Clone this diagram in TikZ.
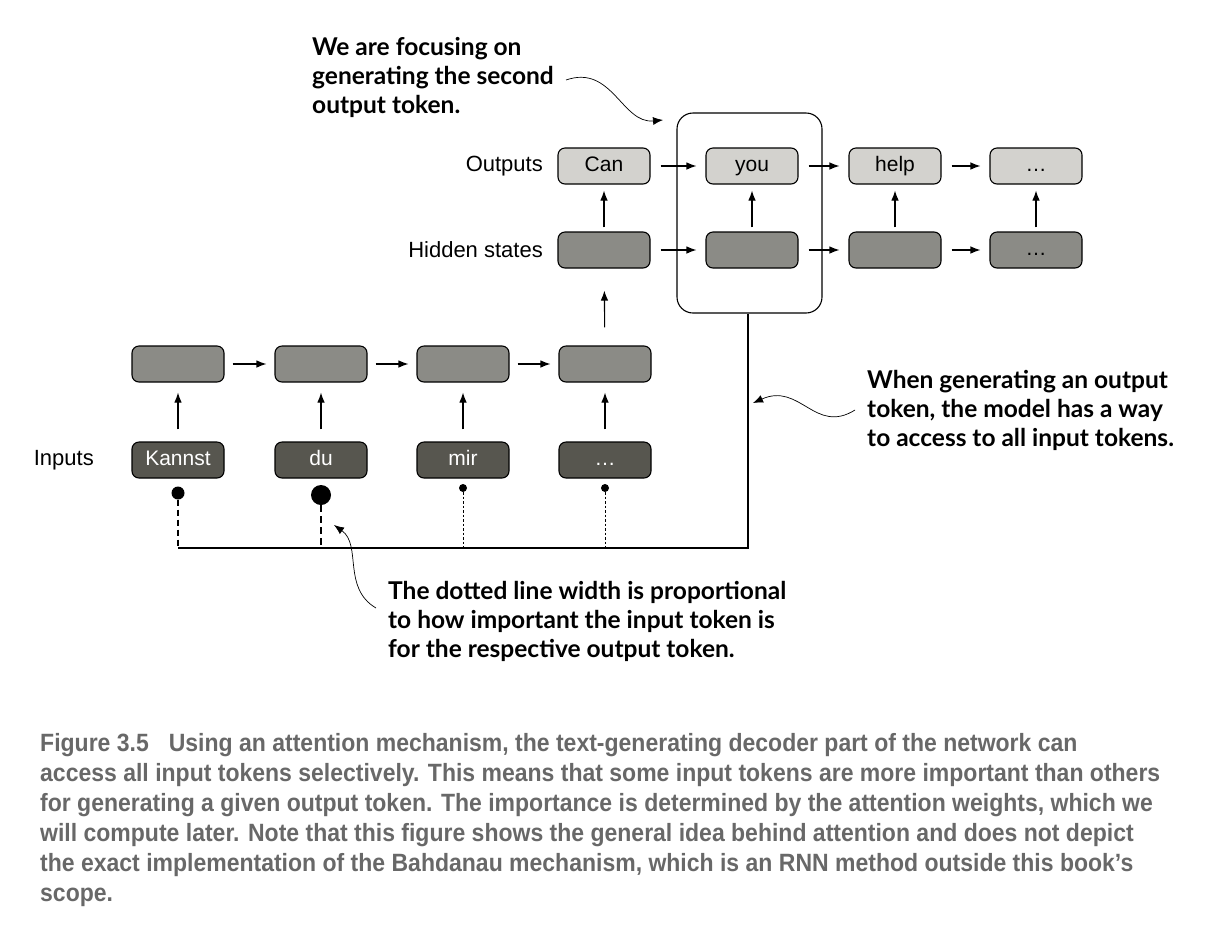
\documentclass[tikz,border=0pt]{standalone}
\usepackage{fontspec}
\setmainfont{Liberation Sans}
\newfontfamily\notefont{Lato}
\newfontfamily\capfont[FakeStretch=0.92]{Liberation Sans}
\usetikzlibrary{positioning,arrows.meta}
\definecolor{outfill}{HTML}{D3D2CE}
\definecolor{hidfill}{HTML}{8B8B86}
\definecolor{infill}{HTML}{57564F}
\definecolor{capgray}{HTML}{686868}
\tikzset{box node/.style={draw,rounded corners=7pt,line width=1.1pt,minimum width=92pt,minimum height=36pt,inner sep=0pt,text height=14pt,text depth=4pt,font=\fontsize{21}{21}\selectfont},
  out node/.style={box node,fill=outfill},
  hid node/.style={box node,fill=hidfill},
  in node/.style={box node,fill=infill,text=white},
  dot node/.style={circle,fill=black,inner sep=0pt},
  row label/.style={anchor=east,inner sep=0pt,font=\fontsize{22}{22}\selectfont},
  note/.style={font=\notefont\bfseries\fontsize{24.5}{29}\selectfont,align=left,anchor=north west,inner sep=0pt},
  arr/.style={-{Latex[length=10pt,width=7.5pt]},line width=1.1pt},
  curly/.style={-{Latex[length=10pt,width=8pt]},line width=0.7pt} }

\begin{document}
\begin{tikzpicture}[x=1pt,y=-1pt]
\useasboundingbox (0,0) rectangle (1214,938);
\begin{scope}[on grid]

  % decoder side
  \node[out node] (o1) at (604,166) {Can};
  \node[out node] (o2) [right=148pt of o1] {you};
  \node[out node] (o3) [right=143pt of o2] {help};
  \node[out node] (o4) [right=141pt of o3] {\dots};
  \node[hid node] (h1) [below=84pt of o1] {};
  \node[hid node] (h2) [below=84pt of o2] {};
  \node[hid node] (h3) [below=84pt of o3] {};
  \node[hid node] (h4) [below=84pt of o4] {\dots};

  % encoder side
  \node[hid node] (e1) at (178,364) {};
  \node[hid node] (e2) [right=143pt of e1] {};
  \node[hid node] (e3) [right=142pt of e2] {};
  \node[hid node] (e4) [right=142pt of e3] {};
  \node[in node] (i1) [below=96pt of e1] {Kannst};
  \node[in node] (i2) [below=96pt of e2] {du};
  \node[in node] (i3) [below=96pt of e3] {mir};
  \node[in node] (i4) [below=96pt of e4] {\dots};

  \node[dot node,minimum size=13pt] (d1) [below=33pt of i1] {};
  \node[dot node,minimum size=20pt] (d2) [below=35pt of i2] {};
  \node[dot node,minimum size=8pt] (d3) [below=28pt of i3] {};
  \node[dot node,minimum size=8pt] (d4) [below=28pt of i4] {};

\end{scope}

  \node[draw,rounded corners=16pt,line width=1.1pt,minimum width=145pt,minimum height=200pt] (focus) at (749.5,213) {};

  \node[row label] (outlbl) at (543,166) {Outputs};
  \node[row label] (hidlbl) at (543,250) {Hidden states};
  \node[row label] (inlbl) at (94,460) {Inputs};

  \draw[arr,shorten <=10pt,shorten >=9pt] (o1) -- (o2);
  \draw[arr,shorten <=10pt,shorten >=9pt] (o2) -- (o3);
  \draw[arr,shorten <=10pt,shorten >=9pt] (o3) -- (o4);
  \draw[arr,shorten <=10pt,shorten >=9pt] (h1) -- (h2);
  \draw[arr,shorten <=10pt,shorten >=9pt] (h2) -- (h3);
  \draw[arr,shorten <=10pt,shorten >=9pt] (h3) -- (h4);
  \draw[arr,shorten <=8pt,shorten >=8pt] (e1) -- (e2);
  \draw[arr,shorten <=8pt,shorten >=8pt] (e2) -- (e3);
  \draw[arr,shorten <=8pt,shorten >=8pt] (e3) -- (e4);

  \draw[arr,shorten <=4pt,shorten >=6pt] (h1) -- (o1);
  \draw[arr,shorten <=4pt,shorten >=6pt] (h2) -- (o2);
  \draw[arr,shorten <=4pt,shorten >=6pt] (h3) -- (o3);
  \draw[arr,shorten <=4pt,shorten >=6pt] (h4) -- (o4);
  \draw[arr,shorten <=18pt,shorten >=22pt] (e4) -- (h1);
  \draw[arr,shorten <=12pt,shorten >=10pt] (i1) -- (e1);
  \draw[arr,shorten <=12pt,shorten >=10pt] (i2) -- (e2);
  \draw[arr,shorten <=12pt,shorten >=10pt] (i3) -- (e3);
  \draw[arr,shorten <=12pt,shorten >=10pt] (i4) -- (e4);

  % attention lines
  \coordinate (bus) at (748,548);
  \draw[line width=1.3pt,dash pattern=on 6pt off 4pt] (d1) -- (d1 |- bus);
  \draw[line width=2.2pt,dash pattern=on 7pt off 4pt] (d2) -- (d2 |- bus);
  \draw[line width=0.9pt,dash pattern=on 2.5pt off 2pt] (d3) -- (d3 |- bus);
  \draw[line width=0.9pt,dash pattern=on 2.5pt off 2pt] (d4) -- (d4 |- bus);
  \draw[line width=1.1pt] (d1 |- bus) -- (bus) -- (bus |- focus.south);

  % notes
  \node[note] (note1) at (312,37) {We are focusing on\\generating the second\\output token.};
  \node[note] (note2) at (867,370) {When generating an output\\token, the model has a way\\to access to all input tokens.};
  \node[note] (note3) at (388,581) {The dotted line width is proportional\\to how important the input token is\\for the respective output token.};
  \coordinate (n1s) at (566,80);
  \coordinate (n1e) at (663,120);
  \coordinate (n2s) at (855,410);
  \coordinate (n2e) at (753,403);
  \coordinate (n3s) at (376,608);
  \coordinate (n3e) at (334,525);
  \draw[curly] (n1s) .. controls (612,64) and (622,124) .. (n1e);
  \draw[curly] (n2s) .. controls (815,435) and (800,382) .. (n2e);
  \draw[curly] (n3s) .. controls (342,588) and (362,545) .. (n3e);

  % caption
  \node[anchor=north west,inner sep=0pt,align=left,text=capgray,font=\capfont\bfseries\fontsize{25}{30}\selectfont] (caption) at (40,733)
  {Figure 3.5\hspace{20pt}Using an attention mechanism, the text-generating decoder part of the network can\\
   access all input tokens selectively. This means that some input tokens are more important than others\\
   for generating a given output token. The importance is determined by the attention weights, which we\\
   will compute later. Note that this figure shows the general idea behind attention and does not depict\\
   the exact implementation of the Bahdanau mechanism, which is an RNN method outside this book’s\\
   scope.};
\end{tikzpicture}
\end{document}
